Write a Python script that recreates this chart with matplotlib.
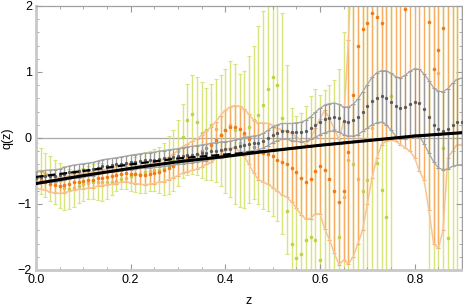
import numpy as np
import matplotlib.pyplot as plt
from matplotlib.ticker import MultipleLocator, FormatStrFormatter

plt.rcParams['font.family'] = ['Liberation Sans', 'DejaVu Sans']

# redshift grid of the binned reconstructions
z = np.linspace(0, 0.9, 91)
nan = np.nan

# yellow-green reconstruction: points, lower and upper limits
yel_c = [-0.44, -0.50, -0.56, -0.62, -0.66, -0.72, -0.76, -0.77, -0.76, -0.73,
         -0.70, -0.68, -0.66, -0.66, -0.66, -0.67, -0.67, -0.65, -0.62, -0.60,
         -0.58, -0.55, -0.54, -0.52, -0.50, -0.48, -0.48, -0.46, -0.41, -0.34,
         -0.20, 0.02, 0.27, 0.36, 0.25, 0.08, 0.12, 0.20, 0.14, 0.05,
         0.12, 0.20, 0.12, -0.07, 0.05, 0.17, 0.28, 0.35, 0.50, 0.75,
         0.93, 0.80, 0.30, -1.10, -1.60, -1.82, -1.75, -1.55, -1.50, -1.55,
         -1.85, -2.10, -2.30, -2.05, -1.50, -0.90, -0.33, -0.40, -0.62, -0.80,
         -0.64, 0.15, -0.38, -0.79, -1.19, 0.63, nan, nan, nan, nan,
         nan, nan, nan, -2.30, -2.40, 0.98, -0.15, -1.52, -2.40, -2.50, -2.50]
yel_lo = [-0.80, -0.85, -0.90, -0.95, -1.00, -1.06, -1.09, -1.08, -1.04, -0.99,
          -0.95, -0.93, -0.93, -0.94, -0.95, -0.92, -0.86, -0.80, -0.77, -0.78,
          -0.80, -0.82, -0.84, -0.83, -0.80, -0.80, -0.84, -0.86, -0.85, -0.80,
          -0.72, -0.60, -0.56, -0.55, -0.56, -0.60, -0.63, -0.64, -0.66, -0.72,
          -0.84, -0.90, -1.00, -1.05, -1.06, -0.98, -0.92, -1.00, -1.08, -1.10,
          -1.18, -1.26, -1.45, -1.75, -3, -3, -3, -3, -3, -3,
          -3, -3, -3, -3, -3, -3, -3, -3, -3, -3,
          -3, -3, -3, -3, -3, -3, nan, nan, nan, nan,
          nan, nan, nan, -3, -3, -3, -3, -3, -3, -3, -3]
yel_hi = [-0.08, -0.15, -0.22, -0.28, -0.33, -0.38, -0.43, -0.47, -0.48, -0.47,
          -0.45, -0.42, -0.40, -0.38, -0.38, -0.42, -0.48, -0.51, -0.48, -0.43,
          -0.36, -0.29, -0.24, -0.21, -0.19, -0.16, -0.13, -0.07, 0.03, 0.12,
          0.27, 0.52, 0.82, 0.96, 0.93, 0.85, 0.76, 0.82, 0.90, 0.96,
          1.05, 1.16, 1.12, 0.97, 1.02, 1.25, 1.40, 1.70, 1.92, 2.30,
          2.50, 2.30, 1.90, 1.10, 0.45, 0.33, 0.38, 0.48, 0.63, 0.75,
          0.65, 0.72, 0.80, 0.88, 1.05, 1.60, 3, 3, 3, 3,
          3, 3, 3, 3, 3, 3, nan, nan, nan, nan,
          nan, nan, nan, 3, 3, 3, 3, 3, 3, 3, 3]

# orange reconstruction: points and half widths
org_c = [-0.62, -0.64, -0.66, -0.69, -0.71, -0.72, -0.71, -0.69, -0.67, -0.66,
         -0.65, -0.64, -0.63, -0.61, -0.60, -0.59, -0.58, -0.56, -0.54, -0.53,
         -0.54, -0.55, -0.56, -0.56, -0.55, -0.53, -0.51, -0.49, -0.46, -0.42,
         -0.38, -0.33, -0.30, -0.27, -0.24, -0.20, -0.15, -0.10, -0.03, 0.05,
         0.12, 0.16, 0.17, 0.14, 0.08, -0.02, -0.13, -0.20, -0.22, -0.24,
         -0.28, -0.33, -0.37, -0.40, -0.45, -0.52, -0.60, -0.66, -0.62, -0.50,
         -0.43, -0.48, -0.62, -0.80, -0.97, -0.80, -0.21, 0.65, 1.40, 1.65,
         1.75, 1.90, 1.84, 1.75, 2.30, 2.40, 2.50, 2.40, 1.95, 2.20,
         2.40, 2.50, 2.30, 1.76, 1.05, 1.33, 1.66, 2.30, 2.50, 2.60, 2.60]
org_e = [0.14, 0.14, 0.13, 0.13, 0.12, 0.12, 0.12, 0.12, 0.12, 0.12,
         0.12, 0.12, 0.12, 0.12, 0.12, 0.12, 0.12, 0.13, 0.13, 0.13,
         0.14, 0.14, 0.14, 0.15, 0.15, 0.16, 0.16, 0.17, 0.17, 0.18,
         0.19, 0.20, 0.21, 0.22, 0.23, 0.24, 0.25, 0.27, 0.28, 0.29,
         0.30, 0.31, 0.32, 0.34, 0.36, 0.38, 0.40, 0.43, 0.45, 0.46,
         0.47, 0.48, 0.49, 0.50, 0.52, 0.54, 0.56, 0.57, 0.60, 0.65,
         0.72, 0.90, 0.92, 0.94, 0.95, 1.05, 1.70, 2.45, 3.00, 3.05,
         2.75, 2.50, 2.15, 1.85, 2.35, 2.43, 2.55, 2.50, 2.10, 2.40,
         2.70, 3.00, 2.94, 2.85, 2.65, 3.00, 3.06, 2.60, 2.70, 2.70, 2.70]

# gray reconstruction: points and half widths
gry_c = [-0.60, -0.59, -0.58, -0.575, -0.57, -0.56, -0.54, -0.52, -0.51, -0.50,
         -0.49, -0.48, -0.47, -0.45, -0.43, -0.42, -0.41, -0.40, -0.39, -0.38,
         -0.37, -0.36, -0.35, -0.34, -0.34, -0.33, -0.32, -0.31, -0.30, -0.29,
         -0.28, -0.27, -0.26, -0.25, -0.24, -0.23, -0.22, -0.20, -0.19, -0.18,
         -0.17, -0.16, -0.14, -0.12, -0.10, -0.09, -0.08, -0.07, -0.04, 0.00,
         0.05, 0.08, 0.10, 0.10, 0.09, 0.09, 0.09, 0.11, 0.15, 0.20,
         0.25, 0.29, 0.31, 0.32, 0.30, 0.26, 0.25, 0.27, 0.32, 0.40,
         0.48, 0.56, 0.61, 0.63, 0.61, 0.55, 0.48, 0.45, 0.47, 0.52,
         0.55, 0.53, 0.44, 0.32, 0.20, 0.13, 0.11, 0.14, 0.20, 0.24, 0.25]
gry_e = [0.09, 0.09, 0.09, 0.09, 0.09, 0.09, 0.095, 0.095, 0.10, 0.10,
         0.10, 0.10, 0.10, 0.10, 0.10, 0.10, 0.10, 0.10, 0.105, 0.105,
         0.11, 0.11, 0.11, 0.11, 0.115, 0.115, 0.12, 0.12, 0.12, 0.12,
         0.12, 0.125, 0.125, 0.125, 0.125, 0.125, 0.125, 0.12, 0.12, 0.12,
         0.115, 0.11, 0.11, 0.11, 0.11, 0.11, 0.11, 0.11, 0.11, 0.115,
         0.12, 0.12, 0.12, 0.12, 0.13, 0.14, 0.15, 0.16, 0.17, 0.19,
         0.20, 0.21, 0.21, 0.21, 0.21, 0.21, 0.22, 0.24, 0.27, 0.30,
         0.33, 0.36, 0.38, 0.39, 0.41, 0.43, 0.45, 0.46, 0.48, 0.49,
         0.50, 0.51, 0.53, 0.55, 0.56, 0.58, 0.59, 0.61, 0.63, 0.65, 0.66]

# model curves
z_mod = [0.0, 0.1, 0.2, 0.3, 0.4, 0.5, 0.6, 0.7, 0.8, 0.9]
q_solid = [-0.69, -0.57, -0.46, -0.36, -0.28, -0.19, -0.11, -0.04, 0.03, 0.08]
q_dash = [-0.59, -0.50, -0.40, -0.31, -0.25, -0.19, -0.11, -0.04, 0.03, 0.08]

yel_c, yel_lo, yel_hi = map(np.array, (yel_c, yel_lo, yel_hi))
org_c, org_e = np.array(org_c), np.array(org_e)
gry_c, gry_e = np.array(gry_c), np.array(gry_e)

fig = plt.figure(figsize=(4.63, 3.05), dpi=100)
ax = fig.add_axes([36/463, 35/305, 426/463, 264/305])

ax.axhline(0, color='#aaaaaa', lw=0.9, zorder=0.5)

# yellow-green
ax.errorbar(z, yel_c, yerr=[yel_c - yel_lo, yel_hi - yel_c], fmt='o', ms=2.6,
            mfc='#bcd444', mec='none', ecolor='#d9e57c', elinewidth=1.0,
            capsize=1.6, capthick=0.8, zorder=1)

# orange
ax.errorbar(z, org_c, yerr=org_e, fmt='o', ms=2.6, mfc='#f27a12', mec='none',
            ecolor='#f7ad62', elinewidth=1.0, capsize=1.6, capthick=0.8, zorder=2)
ax.plot(z, org_c + org_e, color='#f9c494', lw=1.1, zorder=2)
ax.plot(z, org_c - org_e, color='#f9c494', lw=1.1, zorder=2)

# gray
ax.errorbar(z, gry_c, yerr=gry_e, fmt='o', ms=2.4, mfc='#5a5a5a', mec='none',
            ecolor='#999999', elinewidth=0.9, capsize=1.6, capthick=0.8, zorder=3)
ax.plot(z, gry_c + gry_e, color='#a6a6a6', lw=0.9, zorder=3)
ax.plot(z, gry_c - gry_e, color='#a6a6a6', lw=0.9, zorder=3)

# models
ax.plot(z_mod, q_solid, color='black', lw=2.2, zorder=5)
ax.plot(z_mod, q_dash, color='black', lw=1.6, dashes=(3.5, 1.8), zorder=5)

ax.set_xlim(0, 0.9)
ax.set_ylim(-2, 2)
ax.xaxis.set_major_locator(MultipleLocator(0.2))
ax.xaxis.set_minor_locator(MultipleLocator(0.05))
ax.yaxis.set_major_locator(MultipleLocator(1))
ax.yaxis.set_minor_locator(MultipleLocator(0.2))
ax.xaxis.set_major_formatter(FormatStrFormatter('%.1f'))
ax.tick_params(which='both', direction='in', color='#999999', top=True, right=True,
               labelsize=9, pad=3)
ax.tick_params(which='major', length=4, width=0.8)
ax.tick_params(which='minor', length=2, width=0.6)

for side in ('left', 'bottom'):
    ax.spines[side].set_color('#c8c8c8')
    ax.spines[side].set_linewidth(2.0)
for side in ('top', 'right'):
    ax.spines[side].set_color('#a0a0a0')
    ax.spines[side].set_linewidth(0.9)

ax.set_xlabel('z', fontsize=9, labelpad=6)
ax.set_ylabel('q(z)', fontsize=9, labelpad=2)
ax.yaxis.set_label_coords(-0.052, 0.5)

fig.savefig('out.png', dpi=100)
